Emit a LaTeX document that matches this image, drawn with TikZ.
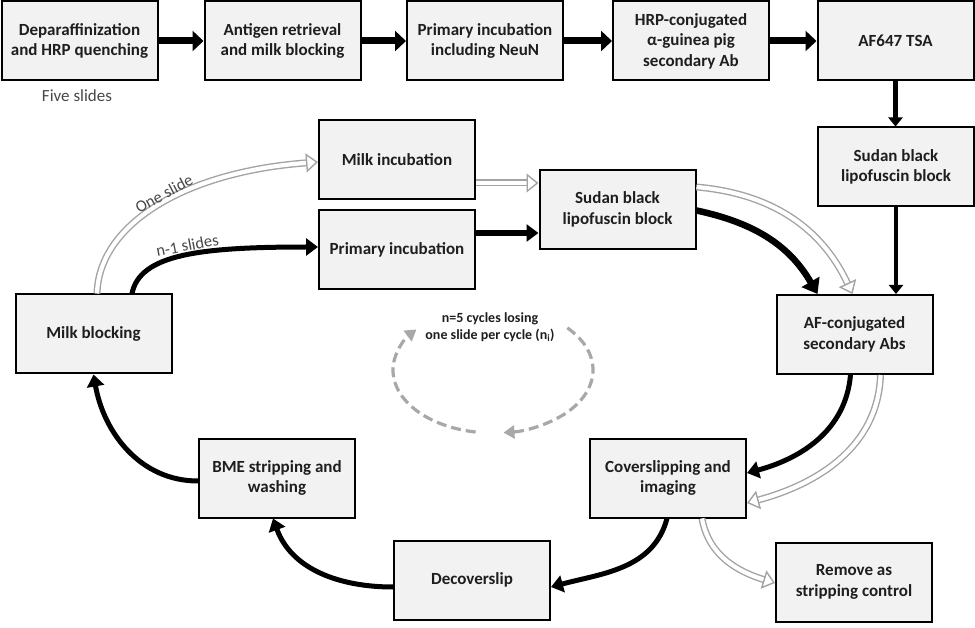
\documentclass[tikz,border=0pt]{standalone}
\usepackage{fontspec}
\setmainfont{Carlito}
\usetikzlibrary{arrows.meta,calc}
\definecolor{boxfill}{HTML}{F2F2F2}
\definecolor{txt}{HTML}{1E1E1E}
\definecolor{hollow}{HTML}{A3A3A3}
\definecolor{dashc}{HTML}{A8A8A8}
\definecolor{labc}{HTML}{474747}
\begin{document}
\begin{tikzpicture}[x=1pt,y=1pt,
  procbox/.style={draw=black, line width=2pt, fill=boxfill, minimum width=156pt, minimum height=79pt, inner sep=2pt, align=center, text=txt, font=\fontsize{17}{20.5}\selectfont\bfseries},
  blackarrow/.style={draw=black, line width=5pt, -{Triangle[length=12pt,width=17pt]}},
  toparrow/.style={draw=black, line width=7pt, -{Triangle[length=11pt,width=20pt]}},
  vertarrow/.style={draw=black, line width=4.5pt, -{Triangle[length=9pt,width=14pt]}},
  grayarrow/.style={draw=hollow, line width=1.4pt, double=white, double distance=4.2pt, -{Triangle[open,length=12pt,width=19pt]}},
  dashstyle/.style={draw=dashc, line width=3.2pt, dash pattern=on 10pt off 5pt, -{Triangle[length=11pt,width=13pt]}},
  labelstyle/.style={font=\fontsize{16.5}{19}\selectfont, text=labc, inner sep=1pt}
]
\useasboundingbox (0,0) rectangle (975,-628);
% top row
\node[procbox] (b1) at (79.5,-41) {Deparaffinization\\and HRP quenching};
\node[procbox] (b2) at (282.5,-41) {Antigen retrieval\\and milk blocking};
\node[procbox] (b3) at (485,-41) {Primary incubation\\including NeuN};
\node[procbox] (b4) at (691,-41) {HRP-conjugated\\α-guinea pig\\secondary Ab};
\node[procbox] (b5) at (895.5,-41) {AF647 TSA};
\node[font=\fontsize{17}{20}\selectfont, text=labc] (five) at (77,-96) {Five slides};
% cycle boxes
\node[procbox] (sudanR) at (896,-167) {Sudan black\\lipofuscin block};
\node[procbox] (afc) at (854.5,-334.5) {AF-conjugated\\secondary Abs};
\node[procbox] (sudanM) at (617.5,-209.5) {Sudan black\\lipofuscin block};
\node[procbox] (milkinc) at (397,-159.5) {Milk incubation};
\node[procbox] (primary) at (397,-249.5) {Primary incubation};
\node[procbox] (milkblock) at (93.5,-334) {Milk blocking};
\node[procbox] (bme) at (277,-478) {BME stripping and\\washing};
\node[procbox] (decover) at (472,-580) {Decoverslip};
\node[procbox] (cover) at (668,-478) {Coverslipping and\\imaging};
\node[procbox] (remove) at (854,-582) {Remove as\\stripping control};
\node[font=\fontsize{14}{17.5}\selectfont\bfseries, text=txt, align=center] (cyclab) at (490,-327) {n=5 cycles losing\\one slide per cycle (n\textsubscript{i})};
\coordinate (cyc) at (493,-370);
% top row arrows
\draw[toparrow] (b1) -- (b2);
\draw[toparrow] (b2) -- (b3);
\draw[toparrow] (b3) -- (b4);
\draw[toparrow] (b4) -- (b5);
\draw[vertarrow] (b5.south) -- (b5.south |- sudanR.north);
\draw[vertarrow] (sudanR.south) -- (sudanR.south |- afc.north);
% middle straight arrows
\draw[grayarrow] ($(milkinc.east)+(0,-23.5)$) -- ($(sudanM.west)+(0,26.5)$);
\draw[blackarrow, line width=6pt] ($(primary.east)+(0,16.5)$) -- ($(sudanM.west)+(0,-23.5)$);
% from milk blocking
\draw[grayarrow] ($(milkblock.north)+(3.5,0)$) .. controls ($(milkblock.north)+(5.5,69)$) and ($(milkinc.west)+(-134,-12.5)$) .. node[sloped,above,pos=0.54,labelstyle]{One slide} ($(milkinc.west)+(0,-2.5)$);
\draw[blackarrow] ($(milkblock.north)+(38.5,0)$) .. controls ($(milkblock.north)+(46.5,39)$) and ($(primary.west)+(-119,2.5)$) .. node[sloped,above,pos=0.53,labelstyle]{n-1 slides} ($(primary.west)+(0,2.5)$);
% sudan middle to AF-conjugated
\draw[blackarrow, line width=6.5pt, -{Triangle[length=14pt,width=20pt]}] ($(sudanM.east)+(0,-1)$) to[out=-12,in=120] ($(afc.north)+(-37,0)$);
\draw[grayarrow] ($(sudanM.east)+(0,22.5)$) to[out=-5,in=115] ($(afc.north)+(-2,0)$);
% AF-conjugated to coverslipping
\draw[blackarrow] ($(afc.south)+(-4,0)$) to[out=-95,in=15] ($(cover.east)+(0,5)$);
\draw[grayarrow] ($(afc.south)+(26,0)$) to[out=-92,in=15] ($(cover.east)+(0,-25)$);
% coverslipping outputs
\draw[blackarrow] ($(cover.south)+(-1,0)$) to[out=-105,in=15] ($(decover.east)+(0,-7)$);
\draw[grayarrow] ($(cover.south)+(34,0)$) to[out=-80,in=163] ($(remove.west)+(0,-1)$);
% back round the loop
\draw[blackarrow] ($(decover.west)+(0,-7)$) to[out=180,in=-70] ($(bme.south)+(-4,0)$);
\draw[blackarrow] ($(bme.west)+(0,-3)$) to[out=180,in=-80] (milkblock.south);
% dashed cycle
\draw[dashstyle] ($(cyc)+(42:100 and 63)$) arc[start angle=42,end angle=-84,x radius=100,y radius=63];
\draw[dashstyle] ($(cyc)+(-100:100 and 63)$) arc[start angle=-100,end angle=-220,x radius=100,y radius=63];
\end{tikzpicture}
\end{document}
